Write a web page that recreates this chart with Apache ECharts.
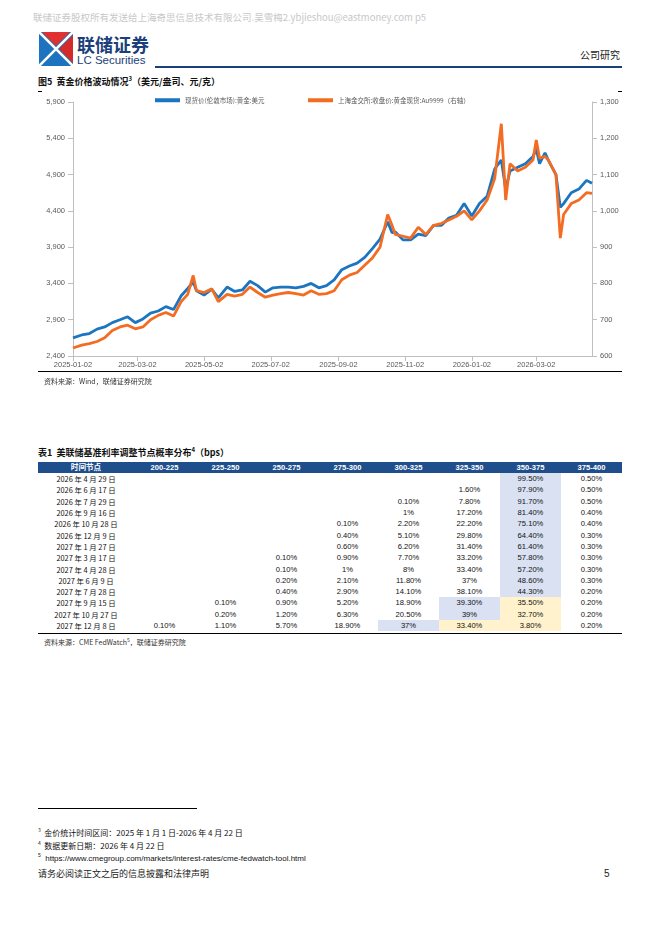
<!DOCTYPE html>
<html><head><meta charset="utf-8">
<script src="https://cdn.jsdelivr.net/npm/echarts@6/dist/echarts.min.js"></script>
<style>
body{margin:0;width:662px;height:936px;position:relative;background:#fff;font-family:"Liberation Sans","Noto Sans CJK SC",sans-serif;overflow:hidden}
.a{position:absolute;white-space:nowrap;line-height:1}
table{border-collapse:collapse;position:absolute;left:38px;top:462px;width:584px;font-size:7.6px;font-family:"Liberation Sans","Noto Sans CJK SC",sans-serif;color:#111}
td,th{height:11.3px;padding:0;text-align:center;line-height:11px}
th{background:#1f4e8c;color:#fff;font-weight:bold;height:11px}
.b{background:#d9e1f2}.y{background:#fff2cc}
</style></head><body>
<div class="a" style="left:33px;top:13px;font-size:9.5px;color:#c8c8c8;font-family:'Noto Sans CJK SC',monospace">联储证券股权所有发送给上海奇思信息技术有限公司.吴雪梅2.ybjieshou@eastmoney.com p5</div>
<svg class="a" style="left:39px;top:32px" width="34" height="34" viewBox="0 0 34 34">
<rect x="0" y="0" width="34" height="34" rx="3" fill="#1e73be"/>
<polygon points="3,0 31,0 17,14" fill="#e03030"/>
<polygon points="34,3 34,31 20,17" fill="#d42a2a"/>
<path d="M0 0 L34 34 M34 0 L0 34" stroke="#fff" stroke-width="2.5"/>
</svg>
<div class="a" style="left:77px;top:35px;font-size:18px;font-weight:bold;color:#1b3f7a;font-family:'Noto Sans CJK SC'">联储证券</div>
<div class="a" style="left:77px;top:55px;font-size:11.5px;color:#1b3f7a">LC Securities</div>
<div class="a" style="left:155px;top:66px;width:467px;height:1.5px;background:#1b3f7a"></div>
<div class="a" style="left:580px;top:50px;font-size:10px;color:#222;font-family:'Noto Sans CJK SC'">公司研究</div>
<div class="a" style="left:38px;top:76px;font-size:9px;font-weight:bold;color:#111;font-family:'Noto Sans CJK SC'">图5&nbsp; 黄金价格波动情况<sup style="font-size:6px">3</sup>（美元/盎司、元/克）</div>
<div class="a" style="left:38px;top:91px;width:4px;height:1px;background:#000"></div>
<div class="a" style="left:618px;top:91px;width:4px;height:1px;background:#000"></div>
<div id="c" class="a" style="left:0;top:88px;width:662px;height:300px"></div>
<div class="a" style="left:38px;top:371px;width:584px;height:1px;background:#000"></div>
<div class="a" style="left:44px;top:378px;font-size:7px;color:#333;font-family:'Noto Sans CJK SC'">资料来源：Wind，联储证券研究院</div>

<div class="a" style="left:38px;top:447px;font-size:9px;font-weight:bold;color:#111;font-family:'Noto Sans CJK SC'">表1&nbsp; 美联储基准利率调整节点概率分布<sup style="font-size:6px">4</sup>（bps）</div>
<table id="t"></table>
<div class="a" style="left:38px;top:633px;width:584px;height:1px;background:#000"></div>
<div class="a" style="left:44px;top:637px;font-size:7px;color:#333;font-family:'Noto Sans CJK SC'">资料来源：CME FedWatch<sup style="font-size:5px">5</sup>，联储证券研究院</div>

<div class="a" style="left:38px;top:808px;width:159px;height:1px;background:#000"></div>
<div class="a" style="left:38px;top:827px;font-size:8px;color:#111;font-family:'Noto Sans CJK SC'"><sup style="font-size:5px">3</sup>&nbsp; 金价统计时间区间：2025 年 1 月 1 日-2026 年 4 月 22 日</div>
<div class="a" style="left:38px;top:840px;font-size:8px;color:#111;font-family:'Noto Sans CJK SC'"><sup style="font-size:5px">4</sup>&nbsp; 数据更新日期：2026 年 4 月 22 日</div>
<div class="a" style="left:38px;top:853px;font-size:8px;color:#111"><sup style="font-size:5px">5</sup>&nbsp; https://www.cmegroup.com/markets/interest-rates/cme-fedwatch-tool.html</div>
<div class="a" style="left:38px;top:869px;font-size:9px;color:#222;font-family:'Noto Sans CJK SC'">请务必阅读正文之后的信息披露和法律声明</div>
<div class="a" style="left:604px;top:869px;font-size:10px;color:#222">5</div>
<script>
const dates=['2025-01-02','2025-01-10','2025-01-17','2025-01-24','2025-01-31','2025-02-07','2025-02-14','2025-02-21','2025-02-28','2025-03-07','2025-03-14','2025-03-21','2025-03-28','2025-04-04','2025-04-11','2025-04-17','2025-04-22','2025-04-25','2025-05-02','2025-05-09','2025-05-15','2025-05-23','2025-05-30','2025-06-06','2025-06-13','2025-06-20','2025-06-27','2025-07-04','2025-07-11','2025-07-18','2025-07-25','2025-08-01','2025-08-08','2025-08-15','2025-08-22','2025-08-29','2025-09-05','2025-09-12','2025-09-19','2025-09-26','2025-10-03','2025-10-10','2025-10-17','2025-10-21','2025-10-24','2025-10-31','2025-11-07','2025-11-14','2025-11-21','2025-11-28','2025-12-05','2025-12-12','2025-12-19','2025-12-26','2026-01-02','2026-01-09','2026-01-16','2026-01-23','2026-01-29','2026-02-02','2026-02-06','2026-02-13','2026-02-20','2026-02-27','2026-03-02','2026-03-05','2026-03-10','2026-03-13','2026-03-20','2026-03-24','2026-03-27','2026-04-03','2026-04-10','2026-04-17','2026-04-22'];
const usd=[2650,2690,2710,2770,2800,2860,2900,2940,2860,2910,2990,3020,3080,3040,3230,3330,3420,3300,3240,3320,3200,3350,3290,3310,3430,3370,3280,3340,3350,3350,3340,3360,3400,3340,3370,3450,3590,3640,3680,3760,3880,4010,4250,4100,4110,4000,4000,4080,4060,4200,4200,4300,4340,4500,4330,4500,4600,4980,5100,4700,4950,5000,5050,5150,5250,5050,5200,5100,4900,4450,4500,4650,4700,4820,4780];
const cny=[622,630,634,640,650,670,680,685,675,680,700,712,720,710,750,770,822,780,775,785,750,770,765,770,790,775,762,768,772,775,772,768,780,770,772,780,810,823,830,850,870,900,990,960,935,930,925,955,935,960,965,975,985,1000,975,1000,1030,1090,1240,1030,1130,1110,1120,1140,1195,1145,1150,1140,1100,925,990,1020,1030,1050,1048];
const tickDates=['2025-01-02','2025-03-02','2025-05-02','2025-07-02','2025-09-02','2025-11-02','2026-01-02','2026-03-02'];
const names=['现货价(伦敦市场):黄金:美元','上海金交所:收盘价:黄金现货:Au9999（右轴）'];
const header=['时间节点','200-225','225-250','250-275','275-300','300-325','325-350','350-375','375-400'];
const rows=[
['2026 年 4 月 29 日','','','','','','','99.50%','0.50%'],
['2026 年 6 月 17 日','','','','','','1.60%','97.90%','0.50%'],
['2026 年 7 月 29 日','','','','','0.10%','7.80%','91.70%','0.50%'],
['2026 年 9 月 16 日','','','','','1%','17.20%','81.40%','0.40%'],
['2026 年 10 月 28 日','','','','0.10%','2.20%','22.20%','75.10%','0.40%'],
['2026 年 12 月 9 日','','','','0.40%','5.10%','29.80%','64.40%','0.30%'],
['2027 年 1 月 27 日','','','','0.60%','6.20%','31.40%','61.40%','0.30%'],
['2027 年 3 月 17 日','','','0.10%','0.90%','7.70%','33.20%','57.80%','0.30%'],
['2027 年 4 月 28 日','','','0.10%','1%','8%','33.40%','57.20%','0.30%'],
['2027 年 6 月 9 日','','','0.20%','2.10%','11.80%','37%','48.60%','0.30%'],
['2027 年 7 月 28 日','','','0.40%','2.90%','14.10%','38.10%','44.30%','0.20%'],
['2027 年 9 月 15 日','','0.10%','0.90%','5.20%','18.90%','39.30%','35.50%','0.20%'],
['2027 年 10 月 27 日','','0.20%','1.20%','6.30%','20.50%','39%','32.70%','0.20%'],
['2027 年 12 月 8 日','0.10%','1.10%','5.70%','18.90%','37%','33.40%','3.80%','0.20%']];
const blueCells={'0-7':1,'1-7':1,'2-7':1,'3-7':1,'4-7':1,'5-7':1,'6-7':1,'7-7':1,'8-7':1,'9-7':1,'10-7':1,'11-6':1,'12-6':1,'13-5':1};
const yellowCells={'11-7':1,'12-7':1,'13-6':1,'13-7':1};
let h='<tr>'+header.map((x,i)=>'<th style="width:'+(i?61:96)+'px">'+x+'</th>').join('')+'</tr>';
rows.forEach((r,i)=>{h+='<tr>'+r.map((x,j)=>{const k=i+'-'+j;const c=blueCells[k]?'b':(yellowCells[k]?'y':'');return '<td class="'+c+'"'+(j==0?' style="font-family:\'Noto Sans CJK SC\';font-size:7.4px"':'')+'>'+x+'</td>';}).join('')+'</tr>';});
document.getElementById('t').innerHTML=h;

const ts=d=>Date.UTC(+d.slice(0,4),+d.slice(5,7)-1,+d.slice(8,10));
const fmt=v=>{const t=new Date(v);const p=n=>String(n).padStart(2,'0');return t.getUTCFullYear()+'-'+p(t.getUTCMonth()+1)+'-'+p(t.getUTCDate());};
const ch=echarts.init(document.getElementById('c'));
const lab={color:'#595959',fontSize:7.5,fontFamily:'Liberation Sans'};
const tv=tickDates.map(ts);
ch.setOption({
animation:false,
grid:{left:73,right:70,top:14,bottom:32},
legend:[{data:[names[0]],left:150,top:4,itemWidth:25,itemHeight:4,icon:'rect',textStyle:{fontSize:6.5,color:'#595959',fontFamily:'Noto Sans CJK SC'}},
{data:[names[1]],left:303,top:4,itemWidth:25,itemHeight:4,icon:'rect',textStyle:{fontSize:6.5,color:'#595959',fontFamily:'Noto Sans CJK SC'}}],
xAxis:{type:'value',min:ts('2025-01-02'),max:ts('2026-04-22'),
axisLine:{lineStyle:{color:'#bfbfbf'}},
axisTick:{show:true,customValues:tv,lineStyle:{color:'#bfbfbf'}},
axisLabel:Object.assign({},lab,{customValues:tv,formatter:v=>fmt(v),margin:5}),
splitLine:{show:false}},
yAxis:[{type:'value',min:2400,max:5900,interval:500,axisLine:{show:true,lineStyle:{color:'#bfbfbf'}},axisTick:{show:true,lineStyle:{color:'#bfbfbf'}},axisLabel:Object.assign({},lab,{margin:8,formatter:v=>v.toLocaleString('en-US')}),splitLine:{show:false}},
{type:'value',min:600,max:1300,interval:100,position:'right',axisLine:{show:true,lineStyle:{color:'#bfbfbf'}},axisTick:{show:true,lineStyle:{color:'#bfbfbf'}},axisLabel:Object.assign({},lab,{margin:8,formatter:v=>v.toLocaleString('en-US')}),splitLine:{show:false}}],
series:[{name:names[0],type:'line',showSymbol:false,data:dates.map((d,i)=>[ts(d),usd[i]]),lineStyle:{width:2.8,color:'#1b75c0'},itemStyle:{color:'#1b75c0'}},
{name:names[1],type:'line',yAxisIndex:1,showSymbol:false,data:dates.map((d,i)=>[ts(d),cny[i]]),lineStyle:{width:2.8,color:'#f36c21'},itemStyle:{color:'#f36c21'}}]
});
</script>
</body></html>
